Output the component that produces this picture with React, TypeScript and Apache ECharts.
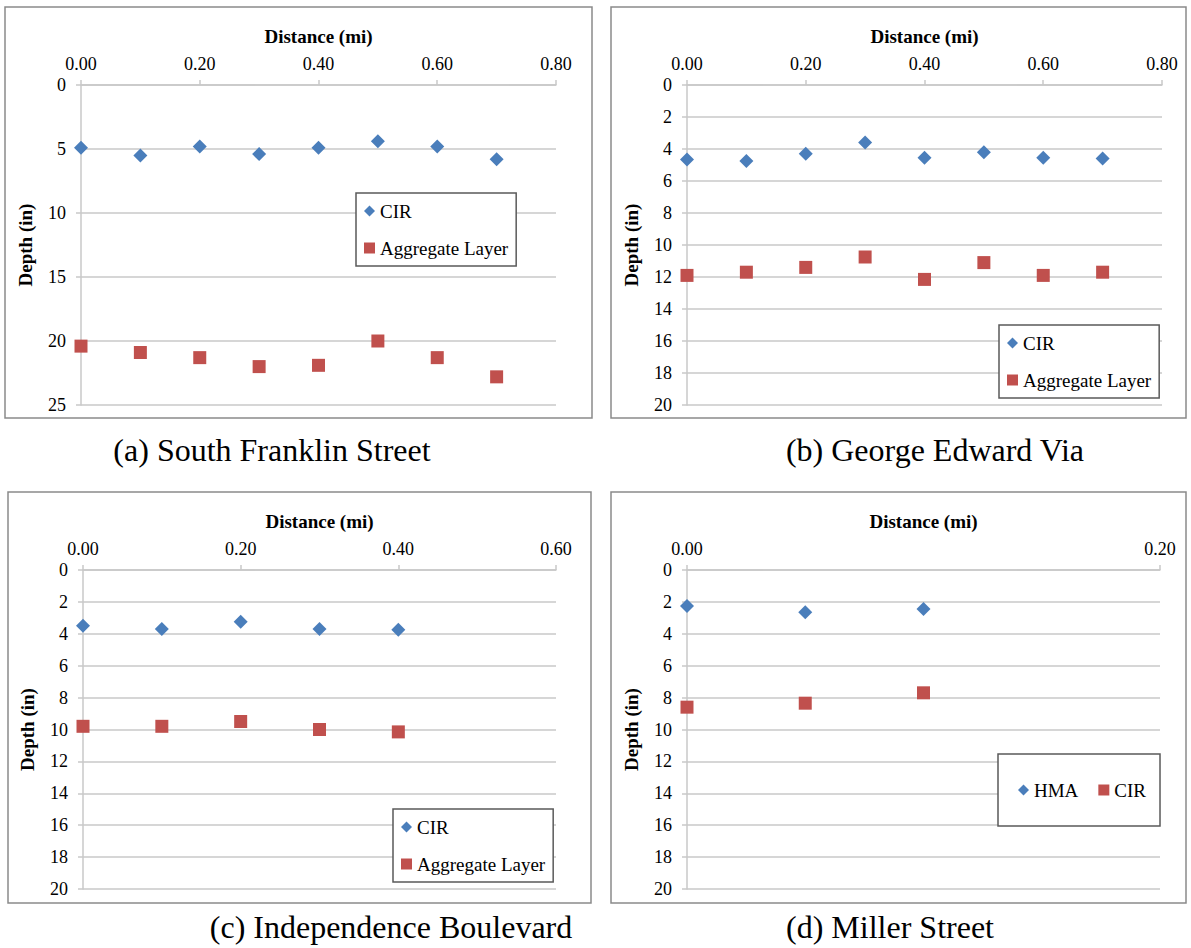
import React, { useEffect, useRef } from "react";
import * as echarts from "echarts";

const FONT = "Liberation Serif";
const BLUE = "#4A7EBB";
const RED = "#C0504D";
const GRID_COLOR = "#c8c8c8";

// Panel (a) South Franklin Street
const distA = [0, 0.1, 0.2, 0.3, 0.4, 0.5, 0.6, 0.7];
const cirA = [4.9, 5.5, 4.8, 5.4, 4.9, 4.4, 4.8, 5.8];
const aggA = [20.4, 20.9, 21.3, 22.0, 21.9, 20.0, 21.3, 22.8];

// Panel (b) George Edward Via
const distB = [0, 0.1, 0.2, 0.3, 0.4, 0.5, 0.6, 0.7];
const cirB = [4.65, 4.75, 4.3, 3.6, 4.55, 4.2, 4.55, 4.6];
const aggB = [11.9, 11.7, 11.4, 10.75, 12.15, 11.1, 11.9, 11.7];

// Panel (c) Independence Boulevard
const distC = [0, 0.1, 0.2, 0.3, 0.4];
const cirC = [3.5, 3.7, 3.25, 3.7, 3.75];
const aggC = [9.8, 9.8, 9.5, 10.0, 10.15];

// Panel (d) Miller Street
const distD = [0, 0.05, 0.1];
const hmaD = [2.25, 2.65, 2.45];
const cirD = [8.6, 8.35, 7.7];

const captions = [
  "(a) South Franklin Street",
  "(b) George Edward Via",
  "(c) Independence Boulevard",
  "(d) Miller Street",
];

type SeriesSpec = { name: string; x: number[]; y: number[]; kind: "diamond" | "square" };

type PanelSpec = {
  left: number;
  top: number;
  width: number;
  height: number;
  border: { x: number; y: number; w: number; h: number };
  grid: { left: number; top: number; width: number; height: number };
  xMax: number;
  yMax: number;
  yInterval: number;
  series: SeriesSpec[];
  legend: { left: number; top: number; orient: "vertical" | "horizontal"; padding: number[]; itemGap: number };
  caption: string;
  captionX: number;
  captionY: number;
};

const zip = (xs: number[], ys: number[]) => xs.map((x, i) => [x, ys[i]]);

const panels: PanelSpec[] = [
  {
    left: 0, top: 0, width: 596, height: 485,
    border: { x: 5, y: 7, w: 587, h: 411 },
    grid: { left: 81, top: 85, width: 475, height: 320 },
    xMax: 0.8, yMax: 25, yInterval: 5,
    series: [
      { name: "CIR", x: distA, y: cirA, kind: "diamond" },
      { name: "Aggregate Layer", x: distA, y: aggA, kind: "square" },
    ],
    legend: { left: 356, top: 193, orient: "vertical", padding: [8, 8, 8, 8], itemGap: 17 },
    caption: captions[0], captionX: 272, captionY: 450,
  },
  {
    left: 596, top: 0, width: 595, height: 485,
    border: { x: 15, y: 7, w: 575, h: 411 },
    grid: { left: 91, top: 85, width: 475, height: 320 },
    xMax: 0.8, yMax: 20, yInterval: 2,
    series: [
      { name: "CIR", x: distB, y: cirB, kind: "diamond" },
      { name: "Aggregate Layer", x: distB, y: aggB, kind: "square" },
    ],
    legend: { left: 403, top: 325, orient: "vertical", padding: [8, 8, 8, 8], itemGap: 17 },
    caption: captions[1], captionX: 339, captionY: 450,
  },
  {
    left: 0, top: 485, width: 596, height: 463,
    border: { x: 8, y: 7, w: 583, h: 411 },
    grid: { left: 83, top: 85, width: 473, height: 319 },
    xMax: 0.6, yMax: 20, yInterval: 2,
    series: [
      { name: "CIR", x: distC, y: cirC, kind: "diamond" },
      { name: "Aggregate Layer", x: distC, y: aggC, kind: "square" },
    ],
    legend: { left: 393, top: 324, orient: "vertical", padding: [8, 8, 8, 8], itemGap: 17 },
    caption: captions[2], captionX: 391, captionY: 442,
  },
  {
    left: 596, top: 485, width: 595, height: 463,
    border: { x: 15, y: 7, w: 575, h: 411 },
    grid: { left: 91, top: 85, width: 473, height: 319 },
    xMax: 0.2, yMax: 20, yInterval: 2,
    series: [
      { name: "HMA", x: distD, y: hmaD, kind: "diamond" },
      { name: "CIR", x: distD, y: cirD, kind: "square" },
    ],
    legend: { left: 402, top: 269, orient: "horizontal", padding: [26, 14, 26, 20], itemGap: 20 },
    caption: captions[3], captionX: 294, captionY: 442,
  },
];

function buildOption(p: PanelSpec) {
  const axisLineStyle = { color: GRID_COLOR, width: 1.5 };
  return {
    animation: false,
    backgroundColor: "#ffffff",
    textStyle: { fontFamily: FONT },
    grid: { ...p.grid, containLabel: false },
    xAxis: {
      type: "value",
      position: "top",
      min: 0,
      max: p.xMax,
      interval: 0.2,
      name: "Distance (mi)",
      nameLocation: "middle",
      nameGap: 39,
      nameTextStyle: { fontFamily: FONT, fontSize: 19, fontWeight: "bold", color: "#000" },
      axisLine: { show: true, onZero: false, lineStyle: axisLineStyle },
      axisTick: { show: true, length: 5, lineStyle: { color: GRID_COLOR, width: 1.5 } },
      axisLabel: {
        formatter: (v: number) => v.toFixed(2),
        margin: 12,
        fontSize: 18,
        color: "#000",
        fontFamily: FONT,
      },
      splitLine: { show: false },
    },
    yAxis: {
      type: "value",
      inverse: true,
      min: 0,
      max: p.yMax,
      interval: p.yInterval,
      name: "Depth (in)",
      nameLocation: "middle",
      nameGap: 46,
      nameTextStyle: { fontFamily: FONT, fontSize: 19, fontWeight: "bold", color: "#000" },
      axisLine: { show: true, onZero: false, lineStyle: axisLineStyle },
      axisTick: { show: true, length: 5, lineStyle: { color: GRID_COLOR, width: 1.5 } },
      axisLabel: { margin: 15, fontSize: 18, color: "#000", fontFamily: FONT },
      splitLine: { show: true, lineStyle: { color: GRID_COLOR, width: 1.5 } },
    },
    legend: {
      orient: p.legend.orient,
      left: p.legend.left,
      top: p.legend.top,
      padding: p.legend.padding,
      itemGap: p.legend.itemGap,
      itemWidth: 11,
      itemHeight: 11,
      backgroundColor: "#ffffff",
      borderColor: "#5a5a5a",
      borderWidth: 1.5,
      borderRadius: 0,
      textStyle: { fontFamily: FONT, fontSize: 19, color: "#000", lineHeight: 20 },
      data: p.series.map((s) => s.name),
    },
    graphic: [
      {
        type: "rect",
        z: -10,
        silent: true,
        shape: { x: p.border.x, y: p.border.y, width: p.border.w, height: p.border.h },
        style: { fill: "transparent", stroke: "#8a8a8a", lineWidth: 1.5 },
      },
      {
        type: "text",
        x: p.captionX,
        y: p.captionY,
        silent: true,
        style: {
          text: p.caption,
          fontFamily: FONT,
          fontSize: 32,
          fill: "#000",
          textAlign: "center",
          textVerticalAlign: "middle",
        },
      },
    ],
    series: p.series.map((s) => ({
      type: "scatter",
      name: s.name,
      data: zip(s.x, s.y),
      symbol: s.kind === "diamond" ? "diamond" : "rect",
      symbolSize: s.kind === "diamond" ? 14 : 13,
      itemStyle: { color: s.kind === "diamond" ? BLUE : RED, opacity: 1 },
      z: 5,
    })),
  };
}

function Panel({ spec }: { spec: PanelSpec }) {
  const ref = useRef<HTMLDivElement>(null);
  useEffect(() => {
    if (!ref.current) return;
    const chart = echarts.init(ref.current, undefined, { renderer: "svg" });
    chart.setOption(buildOption(spec) as any);
    return () => chart.dispose();
  }, [spec]);
  return (
    <div
      ref={ref}
      style={{
        position: "absolute",
        left: spec.left,
        top: spec.top,
        width: spec.width,
        height: spec.height,
      }}
    />
  );
}

export default function App() {
  return (
    <div
      style={{
        position: "absolute",
        left: 0,
        top: 0,
        width: 1191,
        height: 948,
        background: "#ffffff",
        overflow: "hidden",
      }}
    >
      {panels.map((p, i) => (
        <Panel key={i} spec={p} />
      ))}
    </div>
  );
}
